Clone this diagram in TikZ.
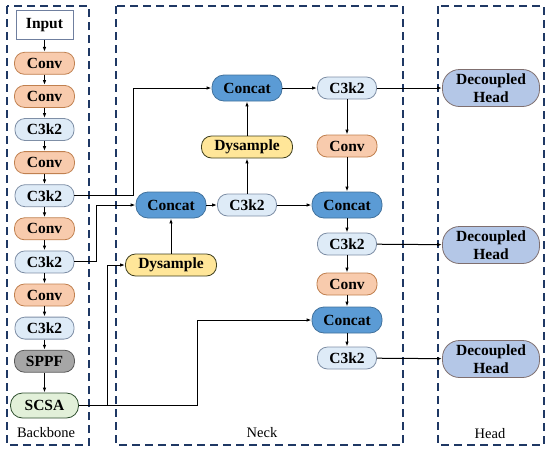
\documentclass[tikz,border=0pt]{standalone}
\usepackage{fontspec}
\setmainfont{Liberation Serif}
\usepackage{tikz}
\usetikzlibrary{arrows.meta, positioning}
\definecolor{convfill}{HTML}{F8CBAD}
\definecolor{convdraw}{HTML}{C0804F}
\definecolor{c3fill}{HTML}{DEEBF7}
\definecolor{c3draw}{HTML}{7F8FA6}
\definecolor{catfill}{HTML}{5B9BD5}
\definecolor{catdraw}{HTML}{41719C}
\definecolor{dysfill}{HTML}{FFE699}
\definecolor{dysdraw}{HTML}{3F3F1F}
\definecolor{sppffill}{HTML}{A6A6A6}
\definecolor{sppfdraw}{HTML}{595959}
\definecolor{scsafill}{HTML}{E2F0D9}
\definecolor{scsadraw}{HTML}{2F4F2F}
\definecolor{headfill}{HTML}{B4C7E7}
\definecolor{headdraw}{HTML}{7F6F6F}
\definecolor{inputdraw}{HTML}{6F7F9F}
\definecolor{regionblue}{HTML}{1F3864}

\begin{document}
\begin{tikzpicture}[x=1pt, y=-1pt,
  block/.style={rectangle, rounded corners=10pt, draw, line width=0.8pt,
               minimum height=22pt, inner sep=1pt,
               font=\fontsize{15.5}{17}\selectfont\bfseries},
  convnode/.style={block, draw=convdraw, fill=convfill, minimum width=60pt},
  c3node/.style={block, draw=c3draw, fill=c3fill, minimum width=59pt},
  catnode/.style={block, draw=catdraw, fill=catfill, minimum width=70pt,
               minimum height=26pt, rounded corners=12pt},
  dysnode/.style={block, draw=dysdraw, fill=dysfill, minimum width=91pt},
  headnode/.style={block, draw=headdraw, fill=headfill, minimum width=97pt,
               minimum height=37pt, rounded corners=17pt, align=center,
               font=\fontsize{15.5}{18}\selectfont\bfseries},
  arrow/.style={-{Latex[length=5pt,width=3.5pt]}, line width=1pt},
  region/.style={draw=regionblue, dash pattern=on 8pt off 5pt, line width=1.5pt},
  tag/.style={font=\fontsize{14.5}{16}\selectfont},
]
\useasboundingbox (0,0) rectangle (550,451);

% regions
\draw[region] (7,6) rectangle (89,445);
\draw[region] (116,6) rectangle (403,445);
\draw[region] (438,6) rectangle (544,445);
\node[tag] (bbtag) at (46,433) {Backbone};
\node[tag] (necktag) at (262,433) {Neck};
\node[tag] (headtag) at (490,434) {Head};

% backbone
\node[block, rounded corners=0pt, draw=inputdraw, fill=white,
      minimum width=57pt, minimum height=29pt] (in) at (44.5,25) {Input};
\node[convnode, below=12pt of in]  (b1) {Conv};
\node[convnode, below=10.3pt of b1] (b2) {Conv};
\node[c3node, below=10.3pt of b2]   (b3) {C3k2};
\node[convnode, below=10.3pt of b3] (b4) {Conv};
\node[c3node, below=10.3pt of b4]   (b5) {C3k2};
\node[convnode, below=10.3pt of b5] (b6) {Conv};
\node[c3node, below=10.3pt of b6]   (b7) {C3k2};
\node[convnode, below=10.3pt of b7] (b8) {Conv};
\node[c3node, below=10.3pt of b8]   (b9) {C3k2};
\node[block, draw=sppfdraw, fill=sppffill, minimum width=60pt,
      below=10.3pt of b9] (sppf) {SPPF};
\node[block, draw=scsadraw, fill=scsafill, minimum width=68pt,
      minimum height=25pt, rounded corners=12pt, below=20pt of sppf] (scsa) {SCSA};

\foreach \a/\b in {in/b1, b1/b2, b2/b3, b3/b4, b4/b5, b5/b6, b6/b7,
                   b7/b8, b8/b9, b9/sppf, sppf/scsa}
  \draw[arrow] (\a) -- (\b);

% neck
\node[catnode] (cat1) at (247,88)  {Concat};
\node[dysnode] (dys1) at (247,147) {Dysample};
\node[catnode] (cat2) at (171,205) {Concat};
\node[c3node]  (n1)   at (247,205) {C3k2};
\node[dysnode] (dys2) at (171,265) {Dysample};
\node[c3node]  (n2)   at (347,88)  {C3k2};
\node[convnode] (n3)  at (347,146) {Conv};
\node[catnode] (cat3) at (347,205) {Concat};
\node[c3node]  (n4)   at (347,244) {C3k2};
\node[convnode] (n5)  at (347,284) {Conv};
\node[catnode] (cat4) at (347,320) {Concat};
\node[c3node]  (n6)   at (347,358) {C3k2};

% head
\node[headnode] (h1) at (491,88)  {Decoupled\\Head};
\node[headnode] (h2) at (491,245) {Decoupled\\Head};
\node[headnode] (h3) at (491,359) {Decoupled\\Head};

% skip links
\coordinate (j1) at (133,0);
\coordinate (j2) at (96,0);
\coordinate (j3) at (107,0);
\coordinate (j4) at (197,0);
\draw[arrow] (b5.east) -| (j1 |- cat1) -- (cat1.west);
\draw[arrow] (b7.east) -| (j2 |- cat2) -- (cat2.west);
\draw[arrow] (scsa.east) -| (j3 |- dys2) -- (dys2.west);
\draw[arrow] (scsa.east) -| (j4 |- cat4) -- (cat4.west);

\foreach \a/\b in {dys2/cat2, cat2/n1, n1/dys1, dys1/cat1, cat1/n2, n1/cat3,
                   n2/n3, n3/cat3, cat3/n4, n4/n5, n5/cat4, cat4/n6,
                   n2/h1, n4/h2, n6/h3}
  \draw[arrow] (\a) -- (\b);
\end{tikzpicture}
\end{document}
